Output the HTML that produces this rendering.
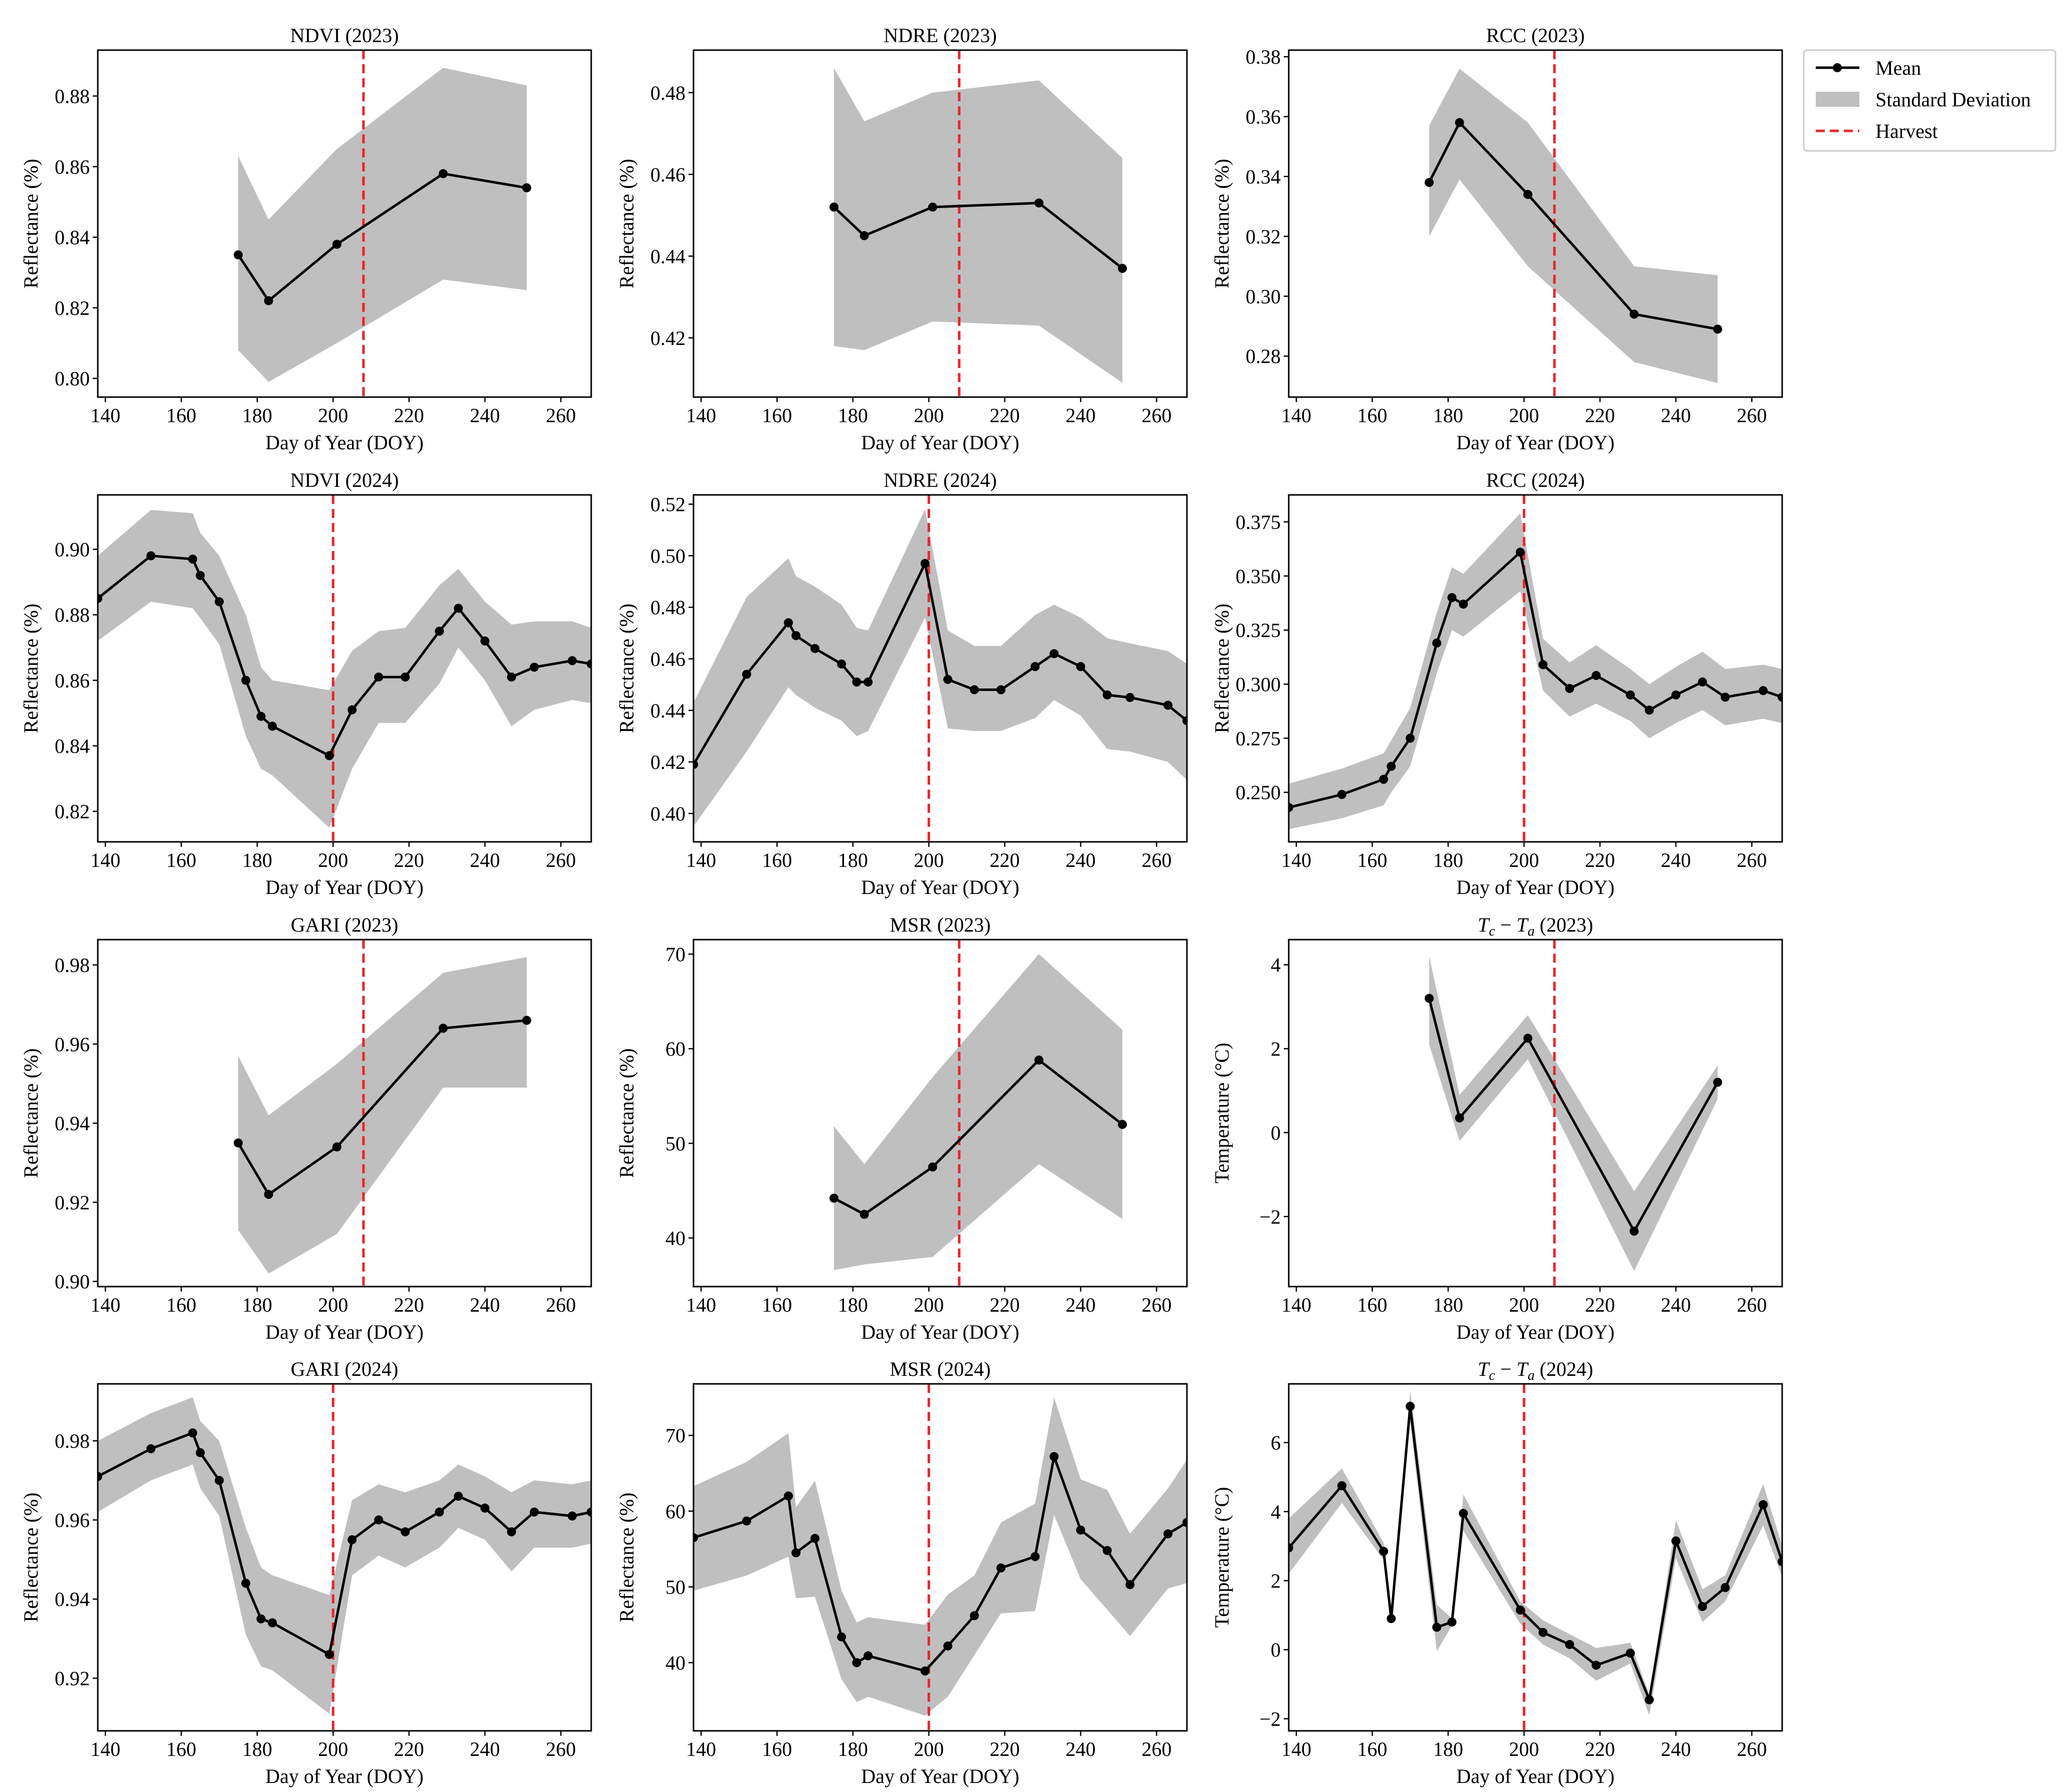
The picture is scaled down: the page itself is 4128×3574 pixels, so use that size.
<!DOCTYPE html>
<html><head><meta charset="utf-8">
<style>
html,body{margin:0;padding:0;background:#fff;}
svg{display:block;font-family:"Liberation Serif","DejaVu Serif",serif;}
</style></head>
<body>
<svg id="fig" width="4128" height="3574" viewBox="0 0 4128 3574" xmlns="http://www.w3.org/2000/svg">
<rect width="4128" height="3574" fill="#fff"/>
<g>
<rect x="3597" y="100" width="502" height="201" fill="#fff" stroke="#ccc" stroke-width="3" rx="6"/>
<line x1="3621" y1="135" x2="3708" y2="135" stroke="#000" stroke-width="5"/>
<circle cx="3664" cy="135" r="9" fill="#000"/>
<text x="3740" y="149" font-size="40">Mean</text>
<rect x="3621" y="183" width="87" height="30" fill="#bfbfbf"/>
<text x="3740" y="212" font-size="40">Standard Deviation</text>
<line x1="3621" y1="261" x2="3708" y2="261" stroke="#e8262b" stroke-width="5" stroke-dasharray="18,10"/>
<text x="3740" y="275" font-size="40">Harvest</text>
</g>
</svg>
<script>
const x2023 = [175,183,201,229,251];
const x2024 = [138,152,163,165,170,177,181,184,199,205,212,219,228,233,240,247,253,263,268];
const xTicks = [140,160,180,200,220,240,260];

const ndvi23Mean = [0.835,0.822,0.838,0.858,0.854];
const ndvi23Up = [0.863,0.845,0.865,0.888,0.883];
const ndvi23Lo = [0.808,0.799,0.810,0.828,0.825];
const ndre23Mean = [0.452,0.445,0.452,0.453,0.437];
const ndre23Up = [0.486,0.473,0.480,0.483,0.464];
const ndre23Lo = [0.418,0.417,0.424,0.423,0.409];
const rcc23Mean = [0.338,0.358,0.334,0.294,0.289];
const rcc23Up = [0.357,0.376,0.358,0.310,0.307];
const rcc23Lo = [0.320,0.339,0.310,0.278,0.271];
const gari23Mean = [0.935,0.922,0.934,0.964,0.966];
const gari23Up = [0.957,0.942,0.955,0.978,0.982];
const gari23Lo = [0.913,0.902,0.912,0.949,0.949];
const msr23Mean = [44.2,42.5,47.5,58.8,52.0];
const msr23Up = [51.8,47.8,57,70,62];
const msr23Lo = [36.6,37.2,38,47.8,42];
const tc23Mean = [3.2,0.35,2.25,-2.35,1.2];
const tc23Up = [4.2,0.9,2.8,-1.4,1.6];
const tc23Lo = [2.1,-0.2,1.75,-3.3,0.8];

const ndvi24Mean = [0.885,0.898,0.897,0.892,0.884,0.860,0.849,0.846,0.837,0.851,0.861,0.861,0.875,0.882,0.872,0.861,0.864,0.866,0.865];
const ndvi24Up = [0.898,0.912,0.911,0.905,0.898,0.880,0.864,0.860,0.857,0.869,0.875,0.876,0.889,0.894,0.884,0.877,0.878,0.878,0.876];
const ndvi24Lo = [0.872,0.884,0.882,0.879,0.871,0.843,0.833,0.831,0.815,0.833,0.847,0.847,0.859,0.870,0.860,0.846,0.851,0.854,0.853];
const ndre24Mean = [0.419,0.454,0.474,0.469,0.464,0.458,0.451,0.451,0.497,0.452,0.448,0.448,0.457,0.462,0.457,0.446,0.445,0.442,0.436];
const ndre24Up = [0.443,0.484,0.499,0.492,0.488,0.481,0.472,0.471,0.518,0.471,0.465,0.465,0.477,0.481,0.476,0.468,0.466,0.463,0.458];
const ndre24Lo = [0.395,0.424,0.449,0.446,0.441,0.436,0.430,0.432,0.476,0.433,0.432,0.432,0.437,0.444,0.438,0.425,0.424,0.420,0.413];
const rcc24Mean = [0.243,0.249,0.256,0.262,0.275,0.319,0.340,0.337,0.361,0.309,0.298,0.304,0.295,0.288,0.295,0.301,0.294,0.297,0.294];
const rcc24Up = [0.254,0.261,0.268,0.274,0.289,0.333,0.354,0.351,0.379,0.321,0.310,0.318,0.307,0.300,0.308,0.315,0.307,0.309,0.307];
const rcc24Lo = [0.233,0.238,0.244,0.250,0.262,0.305,0.325,0.322,0.343,0.297,0.285,0.291,0.283,0.275,0.282,0.288,0.281,0.284,0.282];
const gari24Mean = [0.971,0.978,0.982,0.977,0.970,0.944,0.935,0.934,0.926,0.955,0.960,0.957,0.962,0.966,0.963,0.957,0.962,0.961,0.962];
const gari24Up = [0.980,0.987,0.991,0.985,0.980,0.958,0.948,0.946,0.941,0.965,0.969,0.967,0.970,0.974,0.971,0.967,0.970,0.969,0.970];
const gari24Lo = [0.962,0.970,0.974,0.968,0.961,0.931,0.923,0.922,0.911,0.946,0.951,0.948,0.953,0.958,0.955,0.947,0.953,0.953,0.954];
const msr24Mean = [56.5,58.7,62.0,54.5,56.4,43.4,40.0,40.9,38.9,42.2,46.2,52.5,54.0,67.2,57.5,54.8,50.3,57.0,58.5];
const msr24Up = [63.3,66.5,70.3,60.5,64,49.5,45.3,46,45,49,51.5,58.5,61,75,64.2,62.8,57,63,66.8];
const msr24Lo = [49.5,51.5,54,48.5,48.7,37.8,34.8,35.5,33,35.5,41,46.5,46.8,59.5,51,47,43.5,49.8,50.5];
const tc24Mean = [2.95,4.75,2.85,0.9,7.05,0.65,0.8,3.95,1.15,0.5,0.15,-0.45,-0.1,-1.45,3.15,1.25,1.8,4.2,2.55];
const tc24Up = [3.8,5.25,3.1,0.9,7.5,1.3,0.9,4.5,1.4,0.85,0.45,0.05,0.2,-1.3,3.75,1.75,2.15,4.8,3.0];
const tc24Lo = [2.2,4.25,2.6,0.9,6.6,-0.05,0.7,3.45,0.75,0.15,-0.25,-0.9,-0.4,-1.9,2.65,0.8,1.4,3.6,2.1];

const yTicksNdvi23 = ["0.80","0.82","0.84","0.86","0.88"];
const yTicksNdre23 = ["0.42","0.44","0.46","0.48"];
const yTicksRcc23 = ["0.28","0.30","0.32","0.34","0.36","0.38"];
const yTicksNdvi24 = ["0.82","0.84","0.86","0.88","0.90"];
const yTicksNdre24 = ["0.40","0.42","0.44","0.46","0.48","0.50","0.52"];
const yTicksRcc24 = ["0.250","0.275","0.300","0.325","0.350","0.375"];
const yTicksGari23 = ["0.90","0.92","0.94","0.96","0.98"];
const yTicksMsr23 = ["40","50","60","70"];
const yTicksTc23 = ["−2","0","2","4"];
const yTicksGari24 = ["0.92","0.94","0.96","0.98"];
const yTicksMsr24 = ["40","50","60","70"];
const yTicksTc24 = ["−2","0","2","4","6"];

const NS = "http://www.w3.org/2000/svg";
const svg = document.getElementById('fig');
function mk(tag, attrs, parent){const e=document.createElementNS(NS,tag);for(const k in attrs)e.setAttribute(k,attrs[k]);parent.appendChild(e);return e;}
const colL=[195,1383,2570], rowT=[100,987,1874,2760], W=984, H=692, XMIN=138, XMAX=268;

function panel(o){
  const L=colL[o.c], T=rowT[o.r];
  const g=mk('g',{},svg);
  
  
  const sx=v=>L+(v-XMIN)/(XMAX-XMIN)*W;
  const sy=v=>T+H-(v-o.ymin)/(o.ymax-o.ymin)*H;
  const clip='clip'+o.name;
  const cp=mk('clipPath',{id:clip},g); mk('rect',{x:L,y:T,width:W,height:H},cp);
  const pg=mk('g',{'clip-path':'url(#'+clip+')'},g);
  let pts=o.xs.map((x,i)=>sx(x)+','+sy(o.up[i]));
  for(let i=o.xs.length-1;i>=0;i--) pts.push(sx(o.xs[i])+','+sy(o.lo[i]));
  const band=mk('polygon',{points:pts.join(' '),fill:'#bfbfbf'},pg);
  
  
  const hv=mk('line',{x1:sx(o.harvest),x2:sx(o.harvest),y1:T,y2:T+H,stroke:'#e8262b','stroke-width':5,'stroke-dasharray':'18,10'},pg);
  
  
  const ml=mk('polyline',{points:o.xs.map((x,i)=>sx(x)+','+sy(o.mean[i])).join(' '),fill:'none',stroke:'#000','stroke-width':5,'stroke-linejoin':'round'},pg);
  
  
  o.xs.forEach((x,i)=>{
    const c=mk('circle',{cx:sx(x),cy:sy(o.mean[i]),r:9,fill:'#000'},pg);
    
    
  });
  mk('rect',{x:L,y:T,width:W,height:H,fill:'none',stroke:'#000','stroke-width':3},g);
  xTicks.forEach(t=>{
    const x=sx(t);
    mk('line',{x1:x,x2:x,y1:T+H,y2:T+H+10,stroke:'#000','stroke-width':2.5},g);
    const tx=mk('text',{x:x,y:T+H+50,'font-size':40,'text-anchor':'middle'},g); tx.textContent=t;
    
    
  });
  o.yt.forEach(s=>{
    const y=sy(parseFloat(s.replace('−','-')));
    mk('line',{x1:L-10,x2:L,y1:y,y2:y,stroke:'#000','stroke-width':2.5},g);
    const tx=mk('text',{x:L-16,y:y+14,'font-size':40,'text-anchor':'end'},g); tx.textContent=s;
    
    
  });
  const xl=mk('text',{x:L+W/2,y:T+H+104,'font-size':40,'text-anchor':'middle'},g); xl.textContent='Day of Year (DOY)';
  
  
  const yl=mk('text',{x:0,y:0,'font-size':40,'text-anchor':'middle',transform:'translate('+(L-120)+','+(T+H/2)+') rotate(-90)'},g); yl.textContent=o.ylab;
  
  
  const tt=mk('text',{x:L+W/2,y:T-16,'font-size':40,'text-anchor':'middle'},g);
  
  
  if(o.tc){
    const a=mk('tspan',{'font-style':'italic'},tt); a.textContent='T';
    const b=mk('tspan',{'font-style':'italic','font-size':28,dy:8}, tt); b.textContent='c';
    const c=mk('tspan',{dy:-8},tt); c.textContent=' − ';
    const d=mk('tspan',{'font-style':'italic'},tt); d.textContent='T';
    const e=mk('tspan',{'font-style':'italic','font-size':28,dy:8},tt); e.textContent='a';
    const f=mk('tspan',{dy:-8},tt); f.textContent=' ('+o.year+')';
  } else tt.textContent=o.title;
}
const R='Reflectance (%)';
panel({name:'ndvi-2023',c:0,r:0,xs:x2023,mean:ndvi23Mean,up:ndvi23Up,lo:ndvi23Lo,ymin:0.7947,ymax:0.893,yt:yTicksNdvi23,harvest:208,ylab:R,title:'NDVI (2023)'});
panel({name:'ndre-2023',c:1,r:0,xs:x2023,mean:ndre23Mean,up:ndre23Up,lo:ndre23Lo,ymin:0.4055,ymax:0.4904,yt:yTicksNdre23,harvest:208,ylab:R,title:'NDRE (2023)'});
panel({name:'rcc-2023',c:2,r:0,xs:x2023,mean:rcc23Mean,up:rcc23Up,lo:rcc23Lo,ymin:0.2663,ymax:0.3822,yt:yTicksRcc23,harvest:208,ylab:R,title:'RCC (2023)'});
panel({name:'ndvi-2024',c:0,r:1,xs:x2024,mean:ndvi24Mean,up:ndvi24Up,lo:ndvi24Lo,ymin:0.8107,ymax:0.9166,yt:yTicksNdvi24,harvest:200,ylab:R,title:'NDVI (2024)'});
panel({name:'ndre-2024',c:1,r:1,xs:x2024,mean:ndre24Mean,up:ndre24Up,lo:ndre24Lo,ymin:0.389,ymax:0.5236,yt:yTicksNdre24,harvest:200,ylab:R,title:'NDRE (2024)'});
panel({name:'rcc-2024',c:2,r:1,xs:x2024,mean:rcc24Mean,up:rcc24Up,lo:rcc24Lo,ymin:0.2271,ymax:0.3875,yt:yTicksRcc24,harvest:200,ylab:R,title:'RCC (2024)'});
panel({name:'gari-2023',c:0,r:2,xs:x2023,mean:gari23Mean,up:gari23Up,lo:gari23Lo,ymin:0.8987,ymax:0.9864,yt:yTicksGari23,harvest:208,ylab:R,title:'GARI (2023)'});
panel({name:'msr-2023',c:1,r:2,xs:x2023,mean:msr23Mean,up:msr23Up,lo:msr23Lo,ymin:34.86,ymax:71.53,yt:yTicksMsr23,harvest:208,ylab:R,title:'MSR (2023)'});
panel({name:'tc-ta-2023',c:2,r:2,xs:x2023,mean:tc23Mean,up:tc23Up,lo:tc23Lo,ymin:-3.67,ymax:4.6,yt:yTicksTc23,harvest:208,ylab:'Temperature (°C)',tc:true,year:2023});
panel({name:'gari-2024',c:0,r:3,xs:x2024,mean:gari24Mean,up:gari24Up,lo:gari24Lo,ymin:0.9067,ymax:0.9944,yt:yTicksGari24,harvest:200,ylab:R,title:'GARI (2024)'});
panel({name:'msr-2024',c:1,r:3,xs:x2024,mean:msr24Mean,up:msr24Up,lo:msr24Lo,ymin:31.0,ymax:76.8,yt:yTicksMsr24,harvest:200,ylab:R,title:'MSR (2024)'});
panel({name:'tc-ta-2024',c:2,r:3,xs:x2024,mean:tc24Mean,up:tc24Up,lo:tc24Lo,ymin:-2.35,ymax:7.7,yt:yTicksTc24,harvest:200,ylab:'Temperature (°C)',tc:true,year:2024});
</script>
</body></html>
